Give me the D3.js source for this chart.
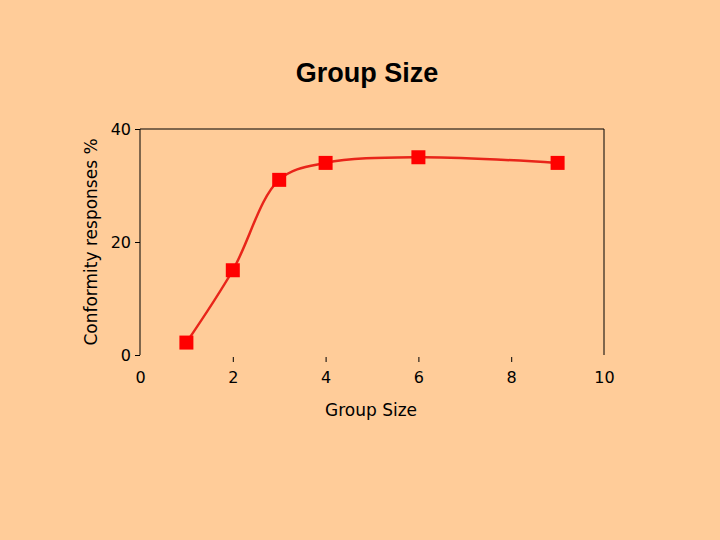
<!DOCTYPE html><html><head><meta charset="utf-8"><script src="https://cdn.jsdelivr.net/npm/d3@7"></script>
<style>body{margin:0;background:#FFCC99}</style></head><body><svg id="c" width="720" height="540"></svg>
<script>
const groupSizes=[1,2,3,4,6,9];
const conformity=[2.2,15,31,34,35,34];
const xTicks=[0,2,4,6,8,10];
const yTicks=[0,20,40];
const svg=d3.select("#c");
svg.append("rect").attr("width",720).attr("height",540).attr("fill","#FFCC99");
const x=d3.scaleLinear().domain([0,10]).range([140,604]);
const y=d3.scaleLinear().domain([0,40]).range([355,129]);
const f="Verdana, 'DejaVu Sans', sans-serif";
svg.append("text").attr("x",367).attr("y",82).attr("text-anchor","middle").attr("font-family","Arial, 'Liberation Sans', sans-serif").attr("font-weight","bold").attr("font-size",27).text("Group Size");
svg.append("path").attr("d",`M${x(0)},${y(0)}V${y(40)}H${x(10)}V${y(0)}`).attr("fill","none").attr("stroke","#000").attr("stroke-width",1);
const ya=svg.append("g").attr("transform",`translate(${x(0)},0)`).call(d3.axisLeft(y).tickValues(yTicks).tickSize(5).tickPadding(4));
ya.select(".domain").remove();
const xa=svg.append("g").attr("transform",`translate(0,${y(0)+2})`).call(d3.axisBottom(x).tickValues(xTicks).tickSize(5).tickPadding(10));
xa.select(".domain").remove();
xa.selectAll(".tick line").filter(d=>d===0||d===10).remove();
svg.selectAll(".tick text").attr("font-family",f).attr("font-size",16).attr("fill","#000");
svg.append("text").attr("x",371).attr("y",416).attr("text-anchor","middle").attr("font-family",f).attr("font-size",17).text("Group Size");
svg.append("text").attr("transform","translate(97,242) rotate(-90)").attr("text-anchor","middle").attr("font-family",f).attr("font-size",17).text("Conformity responses %");
const pts=groupSizes.map((g,i)=>[g,conformity[i]]);
svg.append("path").attr("d",d3.line().x(d=>x(d[0])).y(d=>y(d[1])).curve(d3.curveCatmullRom.alpha(0.5))(pts)).attr("fill","none").attr("stroke","#E8251A").attr("stroke-width",2.5);
svg.selectAll(".m").data(pts).enter().append("rect").attr("x",d=>x(d[0])-7).attr("y",d=>y(d[1])-7).attr("width",14).attr("height",14).attr("fill","#FF0000");
</script></body></html>
